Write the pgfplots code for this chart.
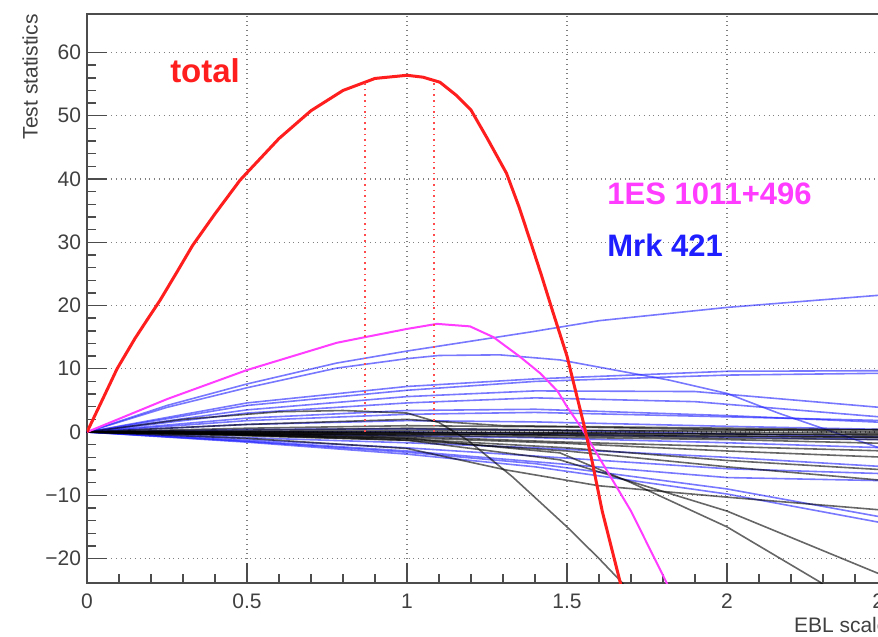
\documentclass[border=0pt]{standalone}
\usepackage{pgfplots}
\pgfplotsset{compat=1.18}
\usepackage{fontspec}
\setmainfont{Liberation Sans}
\definecolor{rootred}{RGB}{255,30,30}
\definecolor{rootmag}{RGB}{255,60,255}
\definecolor{rootblue}{RGB}{30,30,255}
\begin{document}
\begin{tikzpicture}
\begin{axis}[
  at={(0,0)}, anchor=south west,
  scale only axis, width=400pt, height=284.5pt,
  xmin=0, xmax=2.5, ymin=-23.87, ymax=66.09,
  xtick={0,0.5,1,1.5,2,2.5}, xticklabels={0,0.5,1,1.5,2,2.5},
  ytick={-20,-10,0,10,20,30,40,50,60},
  yticklabels={−20,−10,0,10,20,30,40,50,60},
  minor x tick num=4, minor y tick num=4,
  xtick pos=bottom, ytick pos=left,
  tick align=inside,
  major tick length=10pt, minor tick length=4.5pt,
  tick style={black!70, line width=0.7pt},
  axis line style={black!70, line width=0.9pt},
  grid=major, grid style={dotted, black!50, line width=0.6pt},
  ticklabel style={font=\fontsize{10.5}{12}\selectfont, text=black!75},
  xticklabel style={yshift=-2pt},
  yticklabel style={xshift=0.5pt},
  xlabel={EBL scale}, ylabel={Test statistics},
  every axis x label/.style={at={(axis description cs:1,0)}, anchor=north east, yshift=-16pt, xshift=2pt, inner sep=1pt, font=\fontsize{10.5}{12}\selectfont, text=black!75},
  every axis y label/.style={at={(axis description cs:0,1)}, anchor=east, rotate=90, yshift=28.5pt, inner sep=0pt, font=\fontsize{10.5}{12}\selectfont, text=black!75},
  blue line/.style={rootblue, opacity=0.6, line width=0.8pt},
  black line/.style={black, opacity=0.6, line width=0.8pt},
]
% ---- Mrk 421 (blue) ----
\addplot[blue line] coordinates {(0,0) (0.25,4.2) (0.5,7.6) (0.78,10.9) (1.0,12.8) (1.384,15.8) (1.6,17.6) (2.0,19.7) (2.47,21.6) (2.5,21.7)};
\addplot[blue line] coordinates {(0,0) (0.25,3.9) (0.5,7.0) (0.78,10.1) (1.0,11.6) (1.1,12.1) (1.29,12.2) (1.478,11.4) (1.82,8.2) (2.0,6.1) (2.16,3.0) (2.47,-2.4) (2.5,-3)};
\addplot[blue line] coordinates {(0,0) (0.5,4.6) (1.0,7.2) (1.4,8.4) (2.0,9.6) (2.5,9.7)};
\addplot[blue line] coordinates {(0,0) (0.5,4.2) (1.0,6.6) (1.4,8.0) (2.0,9.0) (2.5,9.3)};
\addplot[blue line] coordinates {(0,0) (0.5,3.5) (1.0,5.6) (1.4,6.5) (1.9,6.4) (2.5,3.8)};
\addplot[blue line] coordinates {(0,0) (0.5,3.0) (1.0,4.6) (1.4,5.4) (1.9,4.8) (2.5,2.3)};
\addplot[blue line] coordinates {(0,0) (0.5,2.2) (1.0,3.4) (1.4,3.6) (2.0,2.6) (2.5,1.5)};
\addplot[blue line] coordinates {(0,0) (0.5,1.8) (1.0,2.8) (1.4,3.1) (2.0,2.4) (2.5,1.8)};
\addplot[blue line] coordinates {(0,0) (0.5,1.2) (1.0,1.8) (1.4,1.6) (2.0,0.9) (2.5,0.4)};
\addplot[blue line] coordinates {(0,0) (0.5,0.4) (1.0,0.5) (1.4,0.3) (2.0,-0.3) (2.5,-0.8)};
\addplot[blue line] coordinates {(0,0) (0.5,0.1) (1.0,0.0) (1.4,-0.3) (2.0,-0.8) (2.5,-1.2)};
\addplot[blue line] coordinates {(0,0) (0.5,-0.3) (1.0,-0.6) (1.4,-0.9) (2.0,-1.7) (2.5,-2.5)};
\addplot[blue line] coordinates {(0,0) (0.5,-0.9) (1.0,-1.7) (1.4,-2.5) (2.0,-4.0) (2.5,-5.5)};
\addplot[blue line] coordinates {(0,0) (0.5,-1.2) (1.0,-2.5) (1.4,-3.8) (2.0,-5.8) (2.5,-6.6)};
\addplot[blue line] coordinates {(0,0) (0.5,-1.4) (1.0,-3.0) (1.4,-4.7) (2.0,-7.2) (2.5,-7.7)};
\addplot[blue line] coordinates {(0,0) (0.5,-1.5) (1.0,-3.2) (1.4,-5.0) (2.0,-9.0) (2.5,-13.6)};
\addplot[blue line] coordinates {(0,0) (0.5,-1.6) (1.0,-3.5) (1.4,-5.5) (2.0,-9.8) (2.5,-14.5)};
% ---- other sources (black) ----
\addplot[black line] coordinates {(0,0) (0.3,2.0) (0.6,3.2) (0.8,3.4) (1.0,3.0) (1.1,1.5) (1.19,-1.3) (1.33,-7.1) (1.5,-15) (1.6,-20) (1.67,-23.7) (1.7,-25.5)};
\addplot[black line] coordinates {(0,0) (0.5,-1.0) (1.0,-2.6) (1.31,-6.0) (1.6,-8.5) (2.0,-10.3) (2.5,-12.4)};
\addplot[black line] coordinates {(0,0) (0.5,-0.5) (1.0,-1.3) (1.478,-4.4) (2.0,-12.5) (2.47,-22.3) (2.5,-23)};
\addplot[black line] coordinates {(0,0) (0.5,-0.4) (1.0,-1.0) (1.478,-3.3) (1.7,-8) (2.0,-15) (2.29,-23.7) (2.32,-25)};
\addplot[black line] coordinates {(0,0) (0.5,1.2) (1.0,2.0) (1.3,1.0) (2.0,0.6) (2.5,0.3)};
\addplot[black line] coordinates {(0,0) (0.5,0.3) (1.0,0.6) (1.5,0.3) (2.0,0.0) (2.5,-0.2)};
\addplot[black line] coordinates {(0,0) (1.0,0.0) (2.5,-0.5)};
\addplot[black line] coordinates {(0,0) (0.5,-0.2) (1.0,-0.5) (2.0,-1.2) (2.5,-1.8)};
\addplot[black line] coordinates {(0,0) (0.5,-0.4) (1.0,-0.9) (1.5,-1.8) (2.0,-3.0) (2.5,-4.0)};
\addplot[black line] coordinates {(0,0) (0.5,-0.6) (1.0,-1.3) (1.5,-3.0) (2.0,-5.5) (2.5,-7.7)};
\addplot[black line] coordinates {(0,0) (0.5,-0.5) (1.0,-1.1) (1.5,-2.5) (2.0,-4.5) (2.5,-6.0)};
\addplot[black line] coordinates {(0,0) (0.5,0.6) (1.0,1.0) (1.5,0.8) (2.0,0.4) (2.5,0.0)};
\addplot[black line] coordinates {(0,0) (0.5,-0.1) (1.0,-0.2) (1.5,-0.6) (2.0,-1.0) (2.5,-1.2)};
\addplot[black line] coordinates {(0,0) (0.5,0.1) (1.0,0.3) (1.5,0.2) (2.5,0.4)};
\addplot[black line] coordinates {(0,0) (1.0,-0.7) (1.5,-1.6) (2.0,-2.3) (2.5,-3.0)};
\addplot[black line] coordinates {(0,0) (0.5,-0.3) (1.0,-0.4) (1.5,-0.3) (2.0,-0.6) (2.5,-0.9)};
\addplot[black line] coordinates {(0,0) (0.5,0.0) (1.0,-0.1) (1.5,-0.1) (2.0,-0.3) (2.5,-0.4)};
\addplot[black line] coordinates {(0,0) (0.5,-0.2) (1.0,-0.3) (1.5,-0.5) (2.0,-0.7) (2.5,-0.8)};
% ---- 1ES 1011+496 (magenta) ----
\addplot[rootmag, line width=1pt] coordinates {(0,0) (0.25,5.2) (0.5,9.8) (0.78,14.1) (0.869,15.0) (1.0,16.3) (1.094,17.1) (1.197,16.7) (1.27,15.0) (1.353,11.9) (1.416,9.3) (1.47,6.5) (1.5,4.0) (1.55,0.3) (1.6,-4.0) (1.7,-12.5) (1.81,-23.7) (1.83,-26)};
% ---- total (red) ----
\addplot[rootred, line width=1.5pt] coordinates {(0,0) (0.05,5.3) (0.094,10) (0.15,14.8) (0.1875,17.7) (0.228,20.8) (0.28,25.2) (0.33,29.5) (0.4,34.5) (0.478,39.8) (0.5,41) (0.6,46.4) (0.7,50.8) (0.8,54) (0.9,55.9) (1.0,56.4) (1.05,56.1) (1.103,55.3) (1.155,53.2) (1.2,50.9) (1.25,46.5) (1.311,40.9) (1.35,35.6) (1.384,30.4) (1.42,24.8) (1.457,18.8) (1.5,12) (1.556,0.5) (1.58,-5) (1.61,-12.5) (1.666,-23.7) (1.68,-27)};
\addplot[rootred!80, dotted, line width=0.8pt] coordinates {(0.869,0) (0.869,55.2)};
\addplot[rootred!80, dotted, line width=0.8pt] coordinates {(1.084,0) (1.084,55.5)};
% ---- labels ----
\node[text=rootred, font=\bfseries\fontsize{16.5}{18}\selectfont] at (axis cs:0.369,57.2) {total};
\node[text=rootmag, font=\bfseries\fontsize{15.5}{17}\selectfont, anchor=west, inner sep=0pt] at (axis cs:1.625,37.6) {1ES 1011+496};
\node[text=rootblue, font=\bfseries\fontsize{15.5}{17}\selectfont, anchor=west, inner sep=0pt] at (axis cs:1.625,29.5) {Mrk 421};
\end{axis}
\pgfresetboundingbox
\useasboundingbox (-43.5pt,-27pt) rectangle (395.5pt,291.5pt);
\end{tikzpicture}
\end{document}
